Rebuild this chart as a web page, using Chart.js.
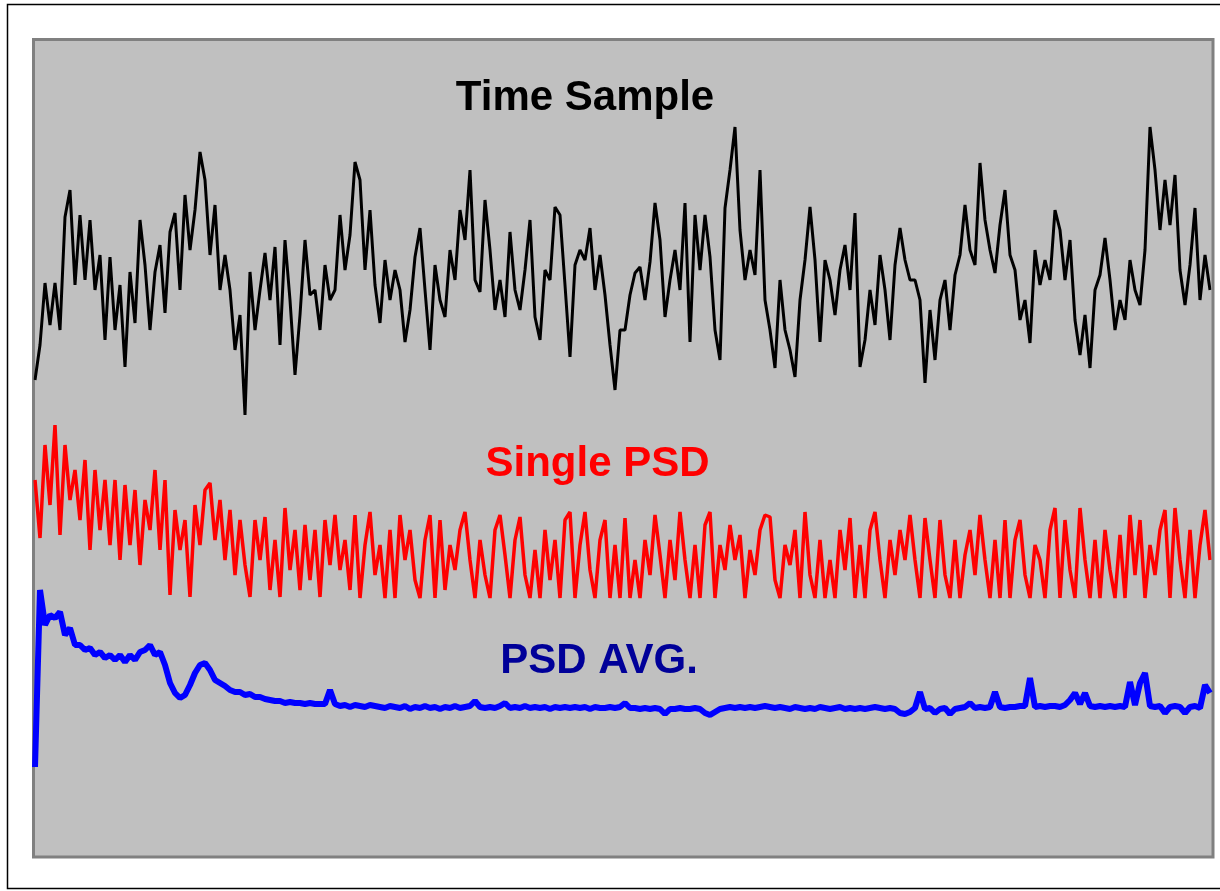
<!DOCTYPE html>
<html>
<head>
<meta charset="utf-8">
<script src="https://cdn.jsdelivr.net/npm/chart.js@4/dist/chart.umd.min.js"></script>
<style>
  html, body { margin: 0; padding: 0; background: #ffffff; }
  #wrap { width: 1220px; height: 891px; position: relative; }
</style>
</head>
<body>
<div id="wrap"><canvas id="c" width="1220" height="891"></canvas></div>
<script>
// ---- DATA (arbitrary amplitude units) ----
const seriesNames = ["Time Sample", "Single PSD", "PSD AVG."];

const timeSample = [
  4.77,5.12,5.74,5.32,5.74,5.27,6.40,6.67,5.72,6.42, 5.77,6.37,5.67,6.02,5.17,6.00,5.27,5.72,4.90,5.85,
  5.34,6.37,5.92,5.27,5.85,6.12,5.44,6.25,6.44,5.67, 6.62,6.07,6.47,7.05,6.77,6.02,6.52,5.67,6.02,5.67,
  5.07,5.42,4.42,5.85,5.27,5.67,6.04,5.57,6.10,5.12, 6.17,5.57,4.82,5.42,6.17,5.62,5.67,5.27,5.92,5.57,
  5.67,6.42,5.87,6.22,6.95,6.77,5.87,6.47,5.72,5.34, 5.97,5.57,5.87,5.67,5.15,5.47,6.00,6.29,5.67,5.07,
  5.92,5.57,5.40,6.07,5.77,6.47,6.17,6.87,5.77,5.65, 6.57,6.07,5.47,5.77,5.40,6.25,5.67,5.47,5.87,6.37,
  5.40,5.17,5.87,5.77,6.50,6.42,5.72,5.00,5.92,6.07, 5.97,6.29,5.67,6.02,5.62,5.12,4.67,5.27,
  5.27,5.62,5.84,5.90,5.57,5.95,6.54,6.17,5.40,5.77, 6.07,5.67,6.54,5.15,6.42,5.87,6.42,6.00,5.27,4.97,
  6.49,6.87,7.30,6.27,5.77,6.07,5.82,6.87,5.57,5.27, 4.89,5.77,5.27,5.07,4.80,5.57,5.97,6.50,5.97,5.15,
  5.97,5.77,5.42,5.87,6.12,5.67,6.44,4.90,5.17,5.67, 5.32,6.02,5.67,5.17,5.92,6.29,5.97,5.77,
  5.77,5.57,4.74,5.47,4.97,5.57,5.77,5.27,5.82,6.02, 6.52,6.07,5.92,6.94,6.37,6.07,5.84,6.32,6.67,6.02,
  5.87,5.37,5.57,5.14,6.07,5.72,5.97,5.77,6.47,6.27, 5.77,6.17,5.37,5.02,5.42,4.89,5.67,5.82,6.19,5.77,
  5.27,5.57,5.37,5.97,5.67,5.52,6.07,7.30,6.87,6.27, 6.77,6.32,6.82,5.87,5.52,5.92,6.49,5.57,6.02,5.67
];

const singlePSD = [
  3.77,3.19,4.12,3.52,4.32,3.22,4.12,3.57,3.87,3.37, 3.97,3.07,3.87,3.27,3.77,3.12,3.77,2.97,3.72,3.12,
  3.67,2.92,3.57,3.27,3.87,3.07,3.77,2.62,3.47,3.07, 3.37,2.60,3.52,3.12,3.67,3.74,3.17,3.57,2.97,3.47,
  2.82,3.37,2.92,2.60,3.37,2.97,3.40,2.67,3.17,2.60, 3.49,2.87,3.27,2.67,3.32,2.77,3.27,2.60,3.37,2.92,
  3.42,2.87,3.17,2.67,3.42,2.59,3.12,3.45,2.82,3.12, 2.59,3.27,2.59,3.42,2.97,3.27,2.77,2.59,3.17,3.42,
  2.59,3.37,2.67,3.12,2.87,3.27,3.45,2.97,2.59,3.17, 2.82,2.59,3.27,3.42,3.02,2.59,3.17,3.40,2.82,2.59,
  3.07,2.59,3.27,2.77,3.17,2.59,3.37,3.45,2.59,3.12, 3.45,2.87,2.59,3.17,3.37,2.59,3.12,2.59,
  3.39,2.59,2.97,2.59,3.17,2.82,3.42,3.02,2.59,3.17, 2.77,3.45,2.97,2.59,3.12,2.59,3.32,3.45,2.59,3.12,
  2.87,3.32,2.97,3.22,2.59,3.07,2.82,3.27,3.42,3.40, 2.77,2.59,3.12,2.92,3.27,2.59,3.45,2.82,2.59,3.17,
  2.59,2.97,2.59,3.27,2.87,3.39,2.59,3.12,2.59,3.27, 3.45,2.97,2.59,3.17,2.82,3.27,2.97,3.42,
  2.97,2.59,3.39,2.97,2.59,3.37,2.82,2.59,3.17,2.59, 3.02,3.27,2.82,3.42,2.97,2.59,3.17,2.59,3.37,2.59,
  3.17,3.37,2.82,2.59,3.12,2.97,2.59,3.27,3.49,2.59, 3.37,2.87,2.59,3.49,2.97,2.59,3.17,2.59,3.27,2.87,
  2.59,3.22,2.59,3.42,2.82,3.37,2.59,3.12,2.82,3.27, 3.47,2.59,3.49,2.97,2.59,3.27,2.59,3.12,3.47,2.97
];

const psdAvg = [
  0.90,2.67,2.32,2.42,2.39,2.45,2.22,2.29,2.12,2.12, 2.07,2.09,2.02,2.05,1.99,2.02,1.97,2.02,1.95,2.02,
  1.97,2.05,2.07,2.12,2.02,2.05,1.92,1.74,1.64,1.59, 1.62,1.72,1.84,1.92,1.94,1.87,1.77,1.74,1.71,1.67,
  1.65,1.65,1.62,1.63,1.60,1.60,1.58,1.57,1.56,1.56, 1.54,1.55,1.54,1.54,1.53,1.54,1.53,1.53,1.53,1.67,
  1.53,
  1.51,1.52,1.50,1.52,1.51,1.50,1.52,1.51,1.50,1.49, 1.51,1.50,1.49,1.51,1.48,1.50,1.49,1.51,1.49,1.50,
  1.48,1.50,1.49,1.51,1.49,1.50,1.51,1.56,1.50,1.49, 1.50,1.49,1.51,1.54,1.49,1.50,1.49,1.51,1.49,1.50,
  1.49,1.50,1.48,1.50,1.49,1.50,1.49,1.50,1.49,1.50, 1.48,1.50,1.49,1.49,1.50,1.49,1.50,1.54,1.49,1.49,
  1.48,1.49,1.48,1.49,1.48,1.43,1.48,1.48,1.49,1.48, 1.48,1.49,1.48,1.44,1.42,1.45,1.48,1.49,1.50,1.49,
  1.50,1.49,1.50,1.49,1.50,1.51,1.50,1.49,1.50,1.49, 1.48,1.50,1.49,1.48,1.49,1.48,1.50,1.49,1.48,1.49,
  1.50,1.48,1.49,1.48,1.49,1.48,1.49,1.50,1.49,1.48, 1.49,1.48,1.44,1.43,1.45,1.49,1.65,1.48,1.49,1.44,
  1.48,1.49,1.43,1.48,1.49,1.50,1.54,1.49,1.50,1.49, 1.50,1.65,1.50,1.49,1.50,1.50,1.51,1.51,1.79,1.50,
  1.51,1.50,1.51,1.51,1.50,1.52,1.57,1.64,1.53,1.64, 1.51,1.50,1.51,1.50,1.51,1.50,1.51,1.50,1.75,1.52,
  1.74,1.84,1.51,1.50,1.51,1.44,1.50,1.51,1.50,1.44, 1.50,1.51,1.49,1.72,1.64
];

// sample numbers (category axis)
const sampleIndex = timeSample.map((_, i) => i + 1);

// ---- label placement (in data coordinates) ----
const seriesLabels = [
  { text: "Time Sample", x: 111, y: 7.47, color: "#000000" },
  { text: "Single PSD",  x: 113.5, y: 3.81, color: "#ff0000" },
  { text: "PSD AVG.",    x: 113.8, y: 1.84, color: "#000099" }
];

const panelPlugin = {
  id: 'panel',
  beforeDraw(chart) {
    const { ctx, chartArea: a } = chart;
    ctx.save();
    ctx.fillStyle = '#ffffff';
    ctx.fillRect(0, 0, chart.width, chart.height);
    // outer frame
    ctx.strokeStyle = '#000000';
    ctx.lineWidth = 1.5;
    ctx.strokeRect(7.5, 4.5, chart.width + 5, 884);
    // plot panel
    ctx.fillStyle = '#c0c0c0';
    ctx.fillRect(a.left - 1, a.top, (a.right + 3) - (a.left - 1), a.bottom - a.top);
    ctx.strokeStyle = '#808080';
    ctx.lineWidth = 3;
    ctx.strokeRect(a.left - 1.5, a.top - 0.5, (a.right + 3) - (a.left - 1.5), a.bottom - a.top + 0.5);
    ctx.restore();
  },
  afterDatasetsDraw(chart) {
    const { ctx, scales } = chart;
    ctx.save();
    ctx.font = "bold 42px 'Liberation Sans', Arial, Helvetica, sans-serif";
    ctx.textAlign = 'center';
    ctx.textBaseline = 'alphabetic';
    seriesLabels.forEach(l => {
      ctx.fillStyle = l.color;
      ctx.fillText(l.text, scales.x.getPixelForValue(l.x - 1), scales.y.getPixelForValue(l.y));
    });
    ctx.restore();
  }
};

new Chart(document.getElementById('c'), {
  type: 'line',
  data: {
    labels: sampleIndex,
    datasets: [
      { label: seriesNames[2], data: psdAvg, borderColor: '#0000ff', borderWidth: 6, order: 0 },
      { label: seriesNames[1], data: singlePSD, borderColor: '#ff0000', borderWidth: 3.5, order: 1 },
      { label: seriesNames[0], data: timeSample, borderColor: '#000000', borderWidth: 3, order: 2 }
    ]
  },
  options: {
    responsive: false,
    animation: false,
    devicePixelRatio: 1,
    layout: { padding: { left: 35, right: 10, top: 40, bottom: 34 } },
    elements: { point: { radius: 0 }, line: { tension: 0, borderJoinStyle: 'bevel', borderCapStyle: 'butt' } },
    plugins: { legend: { display: false }, tooltip: { enabled: false }, title: { display: false } },
    scales: {
      x: { display: false, offset: false },
      y: { display: false, min: 0, max: 8.17 }
    }
  },
  plugins: [panelPlugin]
});
</script>
</body>
</html>
